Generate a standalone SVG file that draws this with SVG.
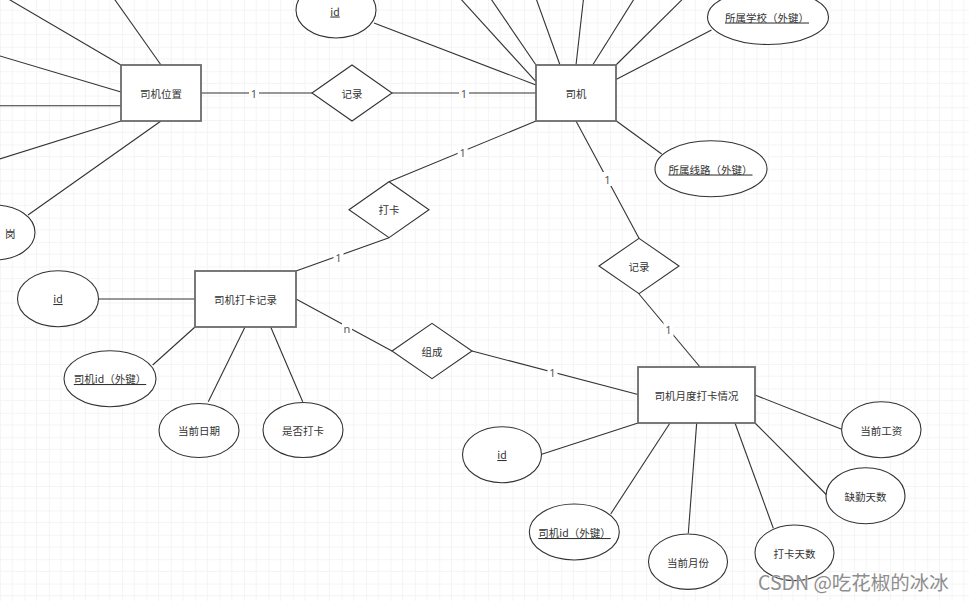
<svg xmlns="http://www.w3.org/2000/svg" width="969" height="601" viewBox="0 0 969 601">
<defs>
<pattern id="grid" width="24.4" height="24.4" patternUnits="userSpaceOnUse" x="0" y="-2">
<path d="M0 0H24.4M0 0V24.4" fill="none" stroke="#ebebeb" stroke-width="1"/>
<path d="M0 12.2H24.4M12.2 0V24.4" fill="none" stroke="#f4f4f4" stroke-width="1"/>
</pattern>
<style>
.ent{fill:#fff;stroke:#6b6b6b;stroke-width:1.8}
.rel{fill:#fff;stroke:#333;stroke-width:1.1}
.att{fill:#fff;stroke:#333;stroke-width:1.1}
.t{font-family:"Noto Sans CJK SC","Noto Sans",sans-serif;font-size:10.5px;fill:#333;text-anchor:middle;dominant-baseline:central}
.u{text-decoration:underline}
.lbl{font-family:"Noto Sans","Liberation Sans",sans-serif;font-size:11px;fill:#555;text-anchor:middle;dominant-baseline:central}
.lb{fill:#fff}
#edges line{stroke:#333;stroke-width:1.1}
</style>
</defs>
<rect width="969" height="601" fill="#fff"/>
<rect width="969" height="601" fill="url(#grid)"/>

<g id="edges">
<line x1="-7" y1="-10" x2="121" y2="65"/>
<line x1="108" y1="-10" x2="161" y2="65"/>
<line x1="-10" y1="53" x2="121" y2="92"/>
<line x1="-10" y1="105.7" x2="121" y2="105.7"/>
<line x1="-10" y1="162" x2="121" y2="121"/>
<line x1="28" y1="215" x2="161" y2="121"/>
<line x1="201" y1="93" x2="312" y2="93"/>
<line x1="374" y1="23" x2="536" y2="85"/>
<line x1="452.6" y1="-10" x2="536" y2="81.7"/>
<line x1="484.9" y1="-10" x2="536" y2="65"/>
<line x1="533" y1="-10" x2="560" y2="65"/>
<line x1="584.5" y1="-10" x2="576" y2="65"/>
<line x1="639.7" y1="-10" x2="592.7" y2="65"/>
<line x1="691.8" y1="-10" x2="616" y2="65"/>
<line x1="711.5" y1="30" x2="616" y2="79.5"/>
<line x1="616" y1="120.7" x2="661.7" y2="154"/>
<line x1="392" y1="93" x2="536" y2="93"/>
<line x1="536" y1="121" x2="389" y2="181.7"/>
<line x1="576" y1="121" x2="639" y2="238.3"/>
<line x1="389" y1="237.7" x2="296" y2="271"/>
<line x1="639" y1="294" x2="700" y2="367"/>
<line x1="98.5" y1="299" x2="195" y2="299"/>
<line x1="152.7" y1="365" x2="195" y2="327"/>
<line x1="208.3" y1="401.7" x2="245" y2="327"/>
<line x1="302.7" y1="401.7" x2="270.7" y2="327"/>
<line x1="296" y1="299" x2="392" y2="351"/>
<line x1="472" y1="351" x2="638" y2="394.5"/>
<line x1="541.7" y1="454.3" x2="638" y2="423"/>
<line x1="610.7" y1="514" x2="670" y2="423"/>
<line x1="688.3" y1="533.3" x2="696.7" y2="423"/>
<line x1="773.3" y1="528.3" x2="735" y2="423"/>
<line x1="826.7" y1="495" x2="755" y2="423"/>
<line x1="841.7" y1="429.3" x2="755" y2="395"/>
</g>

<g id="edge-labels">
<rect class="lb" x="249" y="86" width="10" height="14"/><text class="lbl" x="254" y="93">1</text>
<rect class="lb" x="459" y="86" width="10" height="14"/><text class="lbl" x="464" y="93">1</text>
<rect class="lb" x="457.7" y="145.3" width="10" height="14"/><text class="lbl" x="462.7" y="152.3">1</text>
<rect class="lb" x="602.5" y="172" width="10" height="14"/><text class="lbl" x="607.5" y="179">1</text>
<rect class="lb" x="333.5" y="250.5" width="10" height="14"/><text class="lbl" x="338.5" y="257.5">1</text>
<rect class="lb" x="663.5" y="322" width="10" height="14"/><text class="lbl" x="668.5" y="329">1</text>
<rect class="lb" x="342" y="321" width="10" height="14"/><text class="lbl" x="347" y="328">n</text>
<rect class="lb" x="547.5" y="365.5" width="10" height="14"/><text class="lbl" x="552.5" y="372.5">1</text>
</g>

<g id="entity-siji-weizhi"><rect class="ent" x="121" y="65" width="80" height="56"/><text class="t" x="161" y="93">司机位置</text></g>
<g id="entity-siji"><rect class="ent" x="536" y="65" width="80" height="56"/><text class="t" x="576" y="93">司机</text></g>
<g id="entity-daka-jilu"><rect class="ent" x="195" y="271" width="101" height="56"/><text class="t" x="245.5" y="299">司机打卡记录</text></g>
<g id="entity-yuedu"><rect class="ent" x="638" y="367" width="117" height="56"/><text class="t" x="696.5" y="395">司机月度打卡情况</text></g>

<g id="rel-jilu1"><polygon class="rel" points="312,93 352,65 392,93 352,121"/><text class="t" x="352" y="93">记录</text></g>
<g id="rel-daka"><polygon class="rel" points="349,209.7 389,181.7 429,209.7 389,237.7"/><text class="t" x="389" y="209.7">打卡</text></g>
<g id="rel-jilu2"><polygon class="rel" points="599,266 639,238.3 679,266 639,293.7"/><text class="t" x="639" y="266">记录</text></g>
<g id="rel-zucheng"><polygon class="rel" points="392,351 432,323.3 472,351 432,378.7"/><text class="t" x="432" y="351">组成</text></g>

<g id="attr-left-partial"><ellipse class="att" cx="-5" cy="232.5" rx="40" ry="27.5"/><text class="t" x="15.5" y="233" style="text-anchor:end">岗</text></g>
<g id="attr-siji-id"><ellipse class="att" cx="336" cy="10" rx="40" ry="28"/><text class="t u" x="335" y="11">id</text></g>
<g id="attr-xuexiao"><ellipse class="att" cx="768" cy="17" rx="60.5" ry="27.5"/><text class="t u" x="767" y="17">所属学校（外键）</text></g>
<g id="attr-xianlu"><ellipse class="att" cx="711" cy="168.7" rx="56" ry="28"/><text class="t u" x="710.5" y="169">所属线路（外键）</text></g>
<g id="attr-jilu-id"><ellipse class="att" cx="58" cy="298.7" rx="40.5" ry="28"/><text class="t u" x="58" y="298.5">id</text></g>
<g id="attr-jilu-sijiid"><ellipse class="att" cx="110" cy="378.7" rx="46" ry="28"/><text class="t u" x="110" y="378.5">司机id（外键）</text></g>
<g id="attr-riqi"><ellipse class="att" cx="199" cy="430.5" rx="40" ry="27"/><text class="t" x="199" y="430.5">当前日期</text></g>
<g id="attr-shifou"><ellipse class="att" cx="303" cy="430" rx="40" ry="27.5"/><text class="t" x="303" y="430">是否打卡</text></g>
<g id="attr-yuedu-id"><ellipse class="att" cx="502" cy="454.7" rx="39.5" ry="28"/><text class="t u" x="502" y="454.5">id</text></g>
<g id="attr-yuedu-sijiid"><ellipse class="att" cx="574.3" cy="532" rx="45" ry="28"/><text class="t u" x="574.5" y="532.5">司机id（外键）</text></g>
<g id="attr-yuefen"><ellipse class="att" cx="688" cy="561.7" rx="39.5" ry="27.7"/><text class="t" x="688" y="562">当前月份</text></g>
<g id="attr-dakatianshu"><ellipse class="att" cx="794.5" cy="552.8" rx="39.5" ry="27.8"/><text class="t" x="794.5" y="553">打卡天数</text></g>
<g id="attr-queqin"><ellipse class="att" cx="865.5" cy="495.8" rx="39.5" ry="28"/><text class="t" x="865.5" y="496">缺勤天数</text></g>
<g id="attr-gongzi"><ellipse class="att" cx="881.3" cy="429.7" rx="39.7" ry="28"/><text class="t" x="881.3" y="430">当前工资</text></g>

<text x="758" y="581" style="font-family:'Noto Sans CJK SC','Noto Sans',sans-serif;font-size:19.5px;fill:#8e8e8e;dominant-baseline:central;stroke:#fff;stroke-width:0.6;paint-order:stroke">CSDN @吃花椒的冰冰</text>
</svg>
